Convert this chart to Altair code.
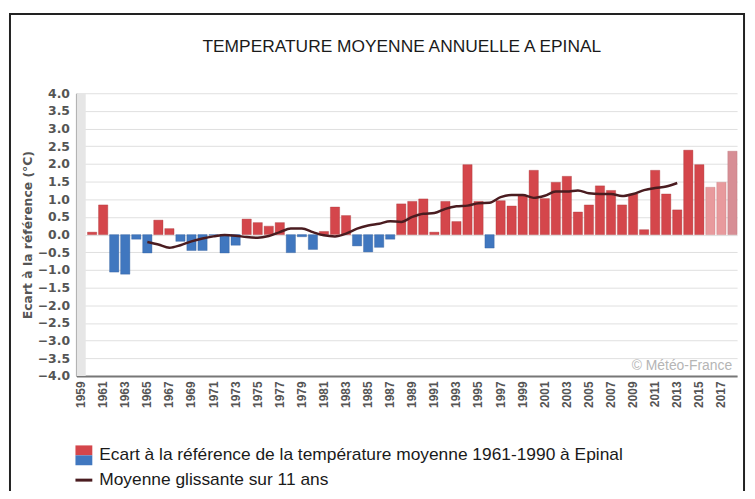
import altair as alt
import pandas as pd

# ---- data ----
years = list(range(1960, 2019))
anomaly = [0.07, 0.84, -1.06, -1.12, -0.13, -0.52, 0.41, 0.17, -0.19, -0.45,
           -0.45, -0.02, -0.52, -0.30, 0.44, 0.34, 0.24, 0.34, -0.51, -0.06,
           -0.42, 0.09, 0.78, 0.54, -0.32, -0.49, -0.36, -0.13, 0.87, 0.94,
           1.01, 0.07, 0.94, 0.37, 1.98, 0.94, -0.38, 0.96, 0.81, 1.10,
           1.82, 1.02, 1.48, 1.65, 0.64, 0.84, 1.38, 1.25, 0.84, 1.15,
           0.14, 1.82, 1.15, 0.70, 2.39, 1.98, 1.34, 1.48, 2.36]
ma_years = list(range(1965, 2014))
ma_values = [-0.21, -0.28, -0.37, -0.30, -0.19, -0.11, -0.05, -0.01, -0.03, -0.07,
             -0.09, -0.04, 0.07, 0.17, 0.17, 0.07, -0.02, -0.05, 0.03, 0.17,
             0.26, 0.31, 0.38, 0.36, 0.50, 0.59, 0.61, 0.73, 0.80, 0.82,
             0.89, 0.90, 1.06, 1.12, 1.12, 1.04, 1.10, 1.22, 1.22, 1.25,
             1.17, 1.15, 1.15, 1.09, 1.15, 1.26, 1.32, 1.36, 1.46]
all_years = list(range(1959, 2019))
label_years = list(range(1959, 2019, 2))
y_ticks = [x / 2 for x in range(-8, 9)]

title = "TEMPERATURE MOYENNE ANNUELLE A EPINAL"
y_title = "Ecart à la référence (°C)"
legend_bar = "Ecart à la référence de la température moyenne 1961-1990 à Epinal"
legend_line = "Moyenne glissante sur 11 ans"
credit = "© Météo-France"


def kind(y, v):
    if y == 2018:
        return "prov2"
    if y >= 2016:
        return "prov"
    return "pos" if v >= 0 else "neg"


bars = pd.DataFrame({"year": years, "value": anomaly,
                     "kind": [kind(y, v) for y, v in zip(years, anomaly)]})
ma = pd.DataFrame({"year": ma_years, "value": ma_values})
band = pd.DataFrame({"year": [1959], "top": [4.0], "bottom": [-4.0]})
one = pd.DataFrame({"a": [0]})

SANS = "Liberation Sans, Arial"
x_scale = alt.Scale(domain=all_years, paddingInner=0.16, paddingOuter=0.0)
y_scale = alt.Scale(domain=[-4, 4], nice=False)

x_axis = alt.Axis(values=label_years, labelAngle=-90, labelFont=SANS,
                  labelFontWeight="bold", labelFontSize=12, labelOverlap=False,
                  labelColor="#555555", labelPadding=5, ticks=False,
                  domainColor="#777777", domainWidth=2, grid=False)

y_axis = alt.Axis(values=y_ticks, format=".1f", labelFont="DejaVu Sans",
                  labelFontWeight="bold", labelOverlap=False,
                  labelFontSize=12.5, labelColor="#555555", labelPadding=7, ticks=False,
                  domainColor="#777777", domainWidth=2, gridColor="#e0e0e0",
                  gridWidth=1, title=y_title, titleFont="DejaVu Sans",
                  titleFontSize=12.5, titleFontWeight="bold", titleColor="#555555",
                  titlePadding=3)

X = alt.X("year:O", scale=x_scale, title=None, axis=x_axis)

band_layer = alt.Chart(band).mark_bar(color="#e6e6e6").encode(
    x=X, y=alt.Y("top:Q", scale=y_scale, axis=y_axis), y2="bottom:Q")

bar_layer = alt.Chart(bars).mark_bar(strokeWidth=0.6, strokeOpacity=0.6).encode(
    x=X,
    y=alt.Y("value:Q", scale=y_scale, axis=y_axis),
    y2=alt.datum(0),
    color=alt.Color("kind:N", legend=None,
                    scale=alt.Scale(domain=["pos", "neg", "prov", "prov2"],
                                    range=["#d4464b", "#4077bf", "#e89a9d", "#d78e95"])),
    stroke=alt.Stroke("kind:N", legend=None,
                      scale=alt.Scale(domain=["pos", "neg", "prov", "prov2"],
                                      range=["#a8353a", "#2f5c99", "#c77b7e", "#b87278"])),
)

line_layer = alt.Chart(ma).mark_line(color="#4a1c20", strokeWidth=2.5,
                                     interpolate="monotone").encode(
    x=X, y=alt.Y("value:Q", scale=y_scale, axis=y_axis))

credit_layer = alt.Chart(one).mark_text(text=credit, align="right", baseline="middle",
                                        font=SANS, fontSize=14,
                                        color="#b5b5b5").encode(
    x=alt.value(661), y=alt.value(275))

border = alt.Chart(one).mark_rect(fillOpacity=0, stroke="#222222", strokeWidth=2).encode(
    x=alt.value(-67), x2=alt.value(673), y=alt.value(-80), y2=alt.value(430))

title_layer = alt.Chart(one).mark_text(text=title, align="center", baseline="middle",
                                       font=SANS, fontSize=17.5,
                                       color="#1a1a1a").encode(
    x=alt.value(328), y=alt.value(-47))

sw_red = alt.Chart(one).mark_rect(color="#d4464b").encode(
    x=alt.value(-1), x2=alt.value(16), y=alt.value(355), y2=alt.value(365))
sw_blue = alt.Chart(one).mark_rect(color="#4077bf").encode(
    x=alt.value(-1), x2=alt.value(16), y=alt.value(365), y2=alt.value(375))
sw_line = alt.Chart(one).mark_rule(color="#4a1c20", strokeWidth=3).encode(
    x=alt.value(-1), x2=alt.value(16), y=alt.value(390))
leg_t1 = alt.Chart(one).mark_text(text=legend_bar, align="left", baseline="middle",
                                  font=SANS, fontSize=17.5,
                                  color="#1a1a1a").encode(x=alt.value(23), y=alt.value(365))
leg_t2 = alt.Chart(one).mark_text(text=legend_line, align="left", baseline="middle",
                                  font=SANS, fontSize=17.5,
                                  color="#1a1a1a").encode(x=alt.value(23), y=alt.value(390))

chart = alt.layer(band_layer, bar_layer, line_layer, credit_layer, border, title_layer,
                  sw_red, sw_blue, sw_line, leg_t1, leg_t2).properties(
    width=666, height=285,
    autosize=alt.AutoSizeParams(type="none"),
    padding={"left": 69, "top": 84, "right": 10, "bottom": 114},
    background="white",
).configure_view(stroke=None)

chart.save("out.html", embed_options={"renderer": "svg", "actions": False})
